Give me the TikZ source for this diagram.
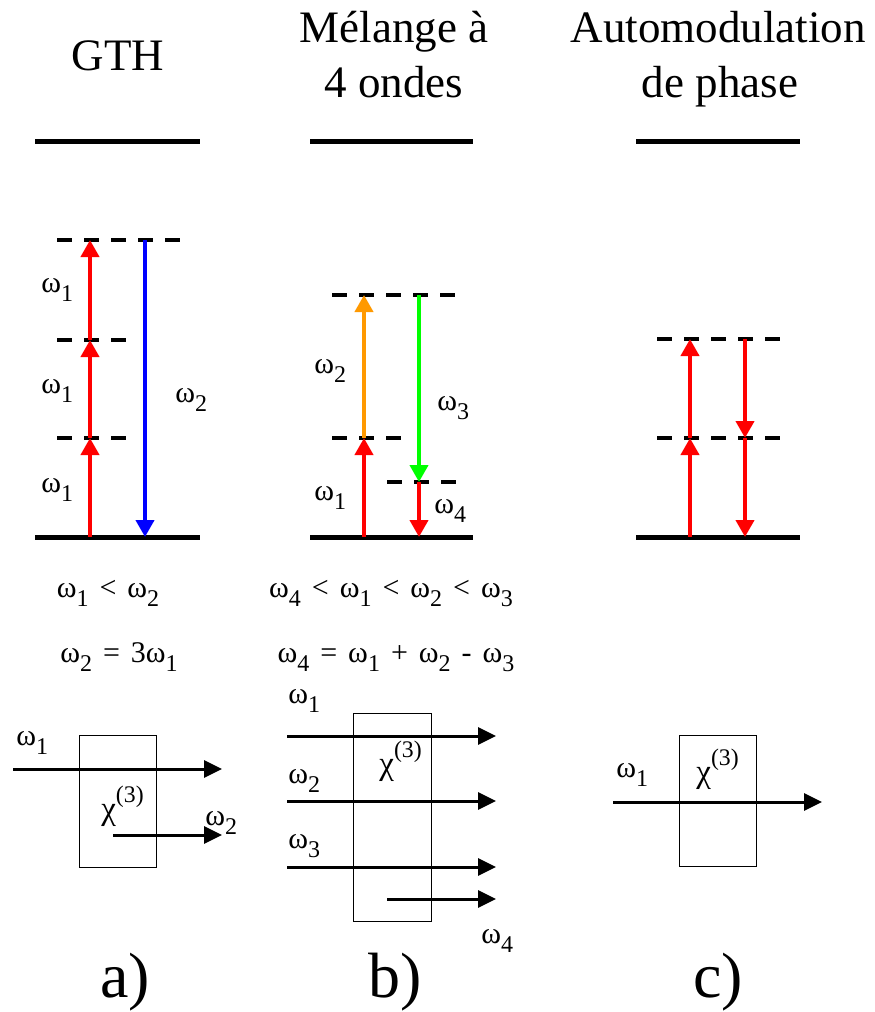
\documentclass[tikz,border=0pt]{standalone}
\usepackage{fontspec}
\setmainfont{Liberation Serif}
\usepackage{graphicx}
\usetikzlibrary{arrows.meta,positioning}
\definecolor{pRed}{RGB}{255,0,0}
\definecolor{pBlue}{RGB}{0,0,255}
\definecolor{pOrange}{RGB}{255,153,0}
\definecolor{pGreen}{RGB}{0,255,0}
\newcommand\om[1]{ω\raisebox{-0.32em}{\scalebox{0.8}{#1}}}
\newcommand\rl[1]{\hspace{11pt}#1\hspace{11pt}}
\newcommand\chiT{χ\raisebox{0.5em}{\scalebox{0.72}{(3)}}}
\tikzset{
  every picture/.style={line width=0.7pt},
  slevel/.style={line width=5pt},
  svirt/.style={line width=3.5pt, dash pattern=on 15pt off 12pt},
  sabs/.style={line width=4pt, -{Triangle[width=18pt,length=17pt]}},
  sbeam/.style={line width=3pt, -{Triangle[width=17pt,length=18pt]}},
  sbox/.style={draw, line width=0.8pt, inner sep=0pt},
  stitle/.style={font=\rmfamily\fontsize{45}{54}\selectfont, inner sep=0pt, anchor=base},
  slab/.style={font=\rmfamily\fontsize{30}{34}\selectfont, inner sep=0pt, anchor=base west},
  schi/.style={font=\rmfamily\fontsize{33}{36}\selectfont, inner sep=0pt, anchor=base west},
  srel/.style={font=\rmfamily\fontsize{30}{34}\selectfont, inner sep=0pt, anchor=base},
  spanel/.style={font=\rmfamily\fontsize{64}{70}\selectfont, inner sep=0pt, anchor=base},
}

\begin{document}
\begin{tikzpicture}[x=1pt, y=-1pt]
  \useasboundingbox (0,0) rectangle (875,1012);
  % titles
  \node[stitle] (tA) at (118,70) {GTH};
  \node[stitle] (tB) at (394,42) {Mélange à};
  \node[stitle] (tB2) at (394,97) {4 ondes};
  \node[stitle] (tC) at (718,42) {Automodulation};
  \node[stitle] (tC2) at (720,97) {de phase};

  % levels
  \coordinate (uA1) at (35,141);  \coordinate (uA2) at (200,141);
  \coordinate (uB1) at (310,141); \coordinate (uB2) at (473,141);
  \coordinate (uC1) at (636,141); \coordinate (uC2) at (800,141);
  \coordinate (gA1) at (35,537);  \coordinate (gA2) at (200,537);
  \coordinate (gB1) at (310,537); \coordinate (gB2) at (473,537);
  \coordinate (gC1) at (636,537); \coordinate (gC2) at (800,537);
  \draw[slevel] (uA1) -- (uA2);
  \draw[slevel] (uB1) -- (uB2);
  \draw[slevel] (uC1) -- (uC2);
  \draw[slevel] (gA1) -- (gA2);
  \draw[slevel] (gB1) -- (gB2);
  \draw[slevel] (gC1) -- (gC2);

  % a) GTH
  \coordinate (a0) at (90,537); \coordinate (a1) at (90,438);
  \coordinate (a2) at (90,340); \coordinate (a3) at (90,240);
  \coordinate (b3) at (145,240); \coordinate (b0) at (145,537);
  \draw[svirt] (57,240) -- (184,240);
  \draw[svirt] (57,340) -- (126,340);
  \draw[svirt] (57,438) -- (126,438);
  \draw[sabs, pRed] (a0) -- (a1);
  \draw[sabs, pRed] (a1) -- (a2);
  \draw[sabs, pRed] (a2) -- (a3);
  \draw[sabs, pBlue] (b3) -- (b0);
  \node[slab] (lA1) at (41,292) {\om{1}};
  \node[slab] (lA2) at (41,393) {\om{1}};
  \node[slab] (lA3) at (41,492) {\om{1}};
  \node[slab] (lA4) at (175,402) {\om{2}};

  % b) melange a 4 ondes
  \coordinate (c0) at (364,537); \coordinate (c1) at (364,438);
  \coordinate (c2) at (364,295);
  \coordinate (d2) at (419,295); \coordinate (d1) at (419,482);
  \coordinate (d0) at (419,537);
  \draw[svirt] (332,295) -- (459,295);
  \draw[svirt] (332,438) -- (401,438);
  \draw[svirt] (387,482) -- (456,482);
  \draw[sabs, pRed] (c0) -- (c1);
  \draw[sabs, pOrange] (c1) -- (c2);
  \draw[sabs, pGreen] (d2) -- (d1);
  \draw[sabs, pRed] (d1) -- (d0);
  \node[slab] (lB2) at (314,373) {\om{2}};
  \node[slab] (lB3) at (437,410) {\om{3}};
  \node[slab] (lB1) at (314,500) {\om{1}};
  \node[slab] (lB4) at (434,513) {\om{4}};

  % c) automodulation
  \coordinate (e0) at (690,537); \coordinate (e1) at (690,438);
  \coordinate (e2) at (690,339);
  \coordinate (f2) at (745,339); \coordinate (f1) at (745,438);
  \coordinate (f0) at (745,537);
  \draw[svirt] (657,339) -- (784,339);
  \draw[svirt] (657,438) -- (784,438);
  \draw[sabs, pRed] (e0) -- (e1);
  \draw[sabs, pRed] (e1) -- (e2);
  \draw[sabs, pRed] (f2) -- (f1);
  \draw[sabs, pRed] (f1) -- (f0);

  % relations
  \node[srel] (rA1) at (108,597) {\om{1}\rl{<}\om{2}};
  \node[srel] (rA2) at (119,662) {\om{2}\rl{=}3\om{1}};
  \node[srel] (rB1) at (391,597) {\om{4}\rl{<}\om{1}\rl{<}\om{2}\rl{<}\om{3}};
  \node[srel] (rB2) at (396,662) {\om{4}\rl{=}\om{1}\rl{+}\om{2}\rl{-}\om{3}};

  % media
  \node[sbox, minimum width=77pt, minimum height=132pt] (mA) at (117.5,801) {};
  \node[sbox, minimum width=78pt, minimum height=208pt] (mB) at (392,817) {};
  \node[sbox, minimum width=77pt, minimum height=131pt] (mC) at (717.5,800.5) {};

  % a) beams
  \coordinate (pA1) at (13,769);  \coordinate (qA1) at (222,769);
  \coordinate (pA2) at (113,835); \coordinate (qA2) at (222,835);
  \draw[sbeam] (pA1) -- (qA1);
  \draw[sbeam] (pA2) -- (qA2);
  \node[slab] (kA1) at (16,745) {\om{1}};
  \node[slab] (kA2) at (205,825) {\om{2}};
  \node[schi] (xA) at (101,819) {\chiT};

  % b) beams
  \coordinate (pB1) at (287,736); \coordinate (qB1) at (496,736);
  \coordinate (pB2) at (287,801); \coordinate (qB2) at (496,801);
  \coordinate (pB3) at (287,867); \coordinate (qB3) at (496,867);
  \coordinate (pB4) at (387,899); \coordinate (qB4) at (496,899);
  \draw[sbeam] (pB1) -- (qB1);
  \draw[sbeam] (pB2) -- (qB2);
  \draw[sbeam] (pB3) -- (qB3);
  \draw[sbeam] (pB4) -- (qB4);
  \node[slab] (kB1) at (288,703) {\om{1}};
  \node[slab] (kB2) at (288,783) {\om{2}};
  \node[slab] (kB3) at (288,848) {\om{3}};
  \node[slab] (kB4) at (481,943) {\om{4}};
  \node[schi] (xB) at (379,774) {\chiT};

  % c) beam
  \coordinate (pC1) at (613,802); \coordinate (qC1) at (822,802);
  \draw[sbeam] (pC1) -- (qC1);
  \node[slab] (kC1) at (616,777) {\om{1}};
  \node[schi] (xC) at (696,782) {\chiT};

  % panel letters
  \node[spanel] (nA) at (125,997) {a)};
  \node[spanel] (nB) at (395,997) {b)};
  \node[spanel] (nC) at (718,997) {c)};
\end{tikzpicture}
\end{document}
